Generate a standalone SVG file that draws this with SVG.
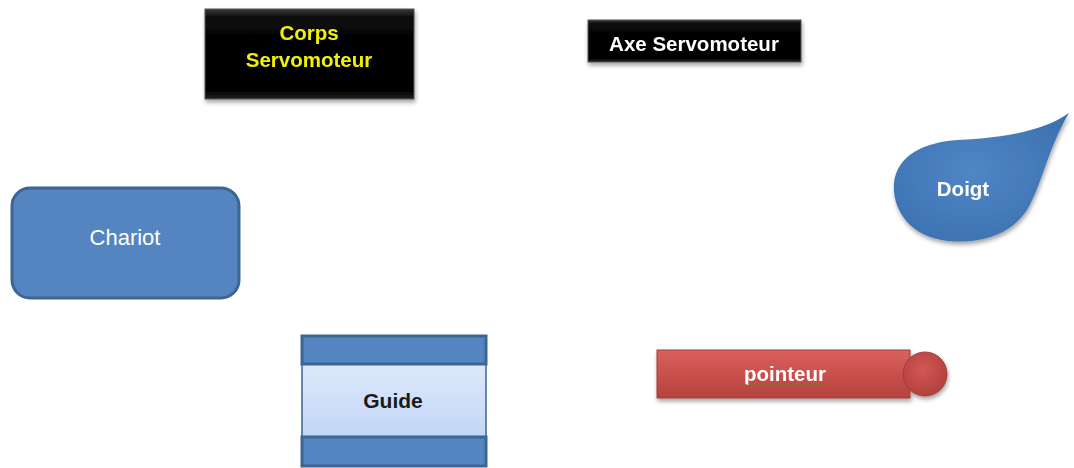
<svg xmlns="http://www.w3.org/2000/svg" width="1074" height="468" viewBox="0 0 1074 468">
<style>
.t{font-family:"Liberation Sans",Arial,sans-serif;font-weight:bold;font-size:20.5px;text-anchor:middle;dominant-baseline:central}
</style>
<defs>
<linearGradient id="blk" x1="0" y1="0" x2="0" y2="1"><stop offset="0" stop-color="#3a3a3a"/><stop offset="0.1" stop-color="#080808"/><stop offset="0.9" stop-color="#000"/><stop offset="1" stop-color="#222"/></linearGradient>
<linearGradient id="red" x1="0" y1="0" x2="0" y2="1"><stop offset="0" stop-color="#d9615d"/><stop offset="0.5" stop-color="#c9504c"/><stop offset="1" stop-color="#b4423f"/></linearGradient>
<radialGradient id="redc" cx="0.45" cy="0.4" r="0.6"><stop offset="0" stop-color="#d35855"/><stop offset="1" stop-color="#b3403d"/></radialGradient>
<radialGradient id="blue" cx="0.45" cy="0.45" r="0.7"><stop offset="0" stop-color="#4f86c6"/><stop offset="1" stop-color="#3a6fae"/></radialGradient>
<linearGradient id="lb" x1="0" y1="0" x2="0" y2="1"><stop offset="0" stop-color="#dde8fb"/><stop offset="1" stop-color="#c3d6f7"/></linearGradient>
<filter id="sh" x="-10%" y="-10%" width="125%" height="135%"><feDropShadow dx="1" dy="3" stdDeviation="2" flood-color="#000" flood-opacity="0.35"/></filter>
</defs>
<g id="corps" filter="url(#sh)">
<rect x="205" y="9" width="209" height="90" fill="url(#blk)" stroke="#555" stroke-width="1"/>
<text class="t" x="309" y="32" fill="#f2f200">Corps</text>
<text class="t" x="309" y="59" fill="#f2f200">Servomoteur</text>
</g>
<g id="axe" filter="url(#sh)">
<rect x="588" y="20" width="213" height="42" fill="url(#blk)" stroke="#555" stroke-width="1"/>
<text class="t" x="694" y="43" fill="#fff">Axe Servomoteur</text>
</g>
<g id="doigt" filter="url(#sh)">
<path d="M1069,113 C1048,148 1042,185 1027,210 C1010,236 978,244 948,241 C910,237 892,210 894,183 C897,155 925,142 958,140 C1000,138 1042,132 1069,113 Z" fill="url(#blue)"/>
<text class="t" x="963" y="188" fill="#fff">Doigt</text>
</g>
<g id="chariot">
<rect x="12" y="188" width="227" height="110" rx="18" fill="#5585c0" stroke="#3c6592" stroke-width="3"/>
<text class="t" x="125" y="237" fill="#fff" style="font-weight:normal;font-size:22px">Chariot</text>
</g>
<g id="guide">
<rect x="302" y="364" width="184" height="73" fill="url(#lb)" stroke="#3c6592" stroke-width="1.5"/>
<rect x="302" y="336" width="184" height="28" fill="#5585c0" stroke="#3c6592" stroke-width="3"/>
<rect x="302" y="437" width="184" height="29" fill="#5585c0" stroke="#3c6592" stroke-width="3"/>
<text class="t" x="393" y="400" fill="#1a1a1a" style="font-size:21px">Guide</text>
</g>
<g id="pointeur" filter="url(#sh)">
<rect x="657" y="350" width="253" height="48" fill="url(#red)" stroke="#a33d3a" stroke-width="1"/>
<circle cx="925" cy="374" r="22" fill="url(#redc)" stroke="#a33d3a" stroke-width="1"/>
<text class="t" x="785" y="373" fill="#fff">pointeur</text>
<path d="M743,385 q2,-2 4,0 t4,0 t4,0 t4,0 t4,0 t4,0 t4,0 t4,0 t4,0 t4,0 t4,0 t4,0 t4,0 t4,0 t4,0 t4,0 t4,0 t4,0 t4,0 t4,0 t4,0" fill="none" stroke="#6b7a1e" stroke-width="1"/>
</g>
<g id="connectors"/>
</svg>
